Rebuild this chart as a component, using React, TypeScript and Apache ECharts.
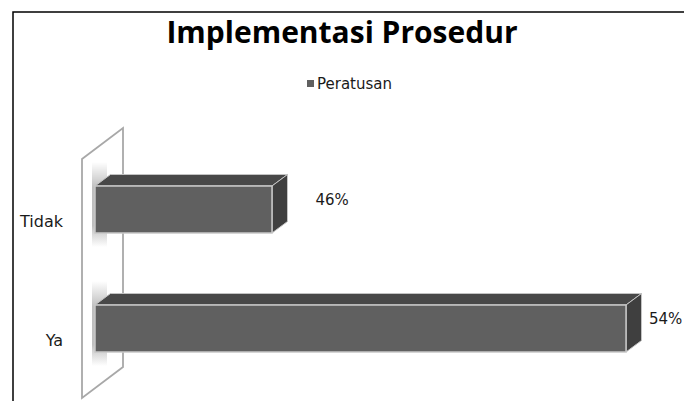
import React, { useEffect, useRef } from 'react';
import * as echarts from 'echarts';

const categories = ['Ya', 'Tidak'];
const values = [54, 46];
const seriesName = 'Peratusan';
const titleText = 'Implementasi Prosedur';
const axisMin = 42;
const axisMax = 55.31;

export default function App() {
  const ref = useRef<HTMLDivElement>(null);
  useEffect(() => {
    document.body.style.margin = '0';
    const chart = echarts.init(ref.current!, null, { renderer: 'svg' });
    const DX = 15.5;
    const DY = -11.5;
    chart.setOption({
      animation: false,
      backgroundColor: '#ffffff',
      title: {
        text: titleText,
        left: 'center',
        top: 11,
        textStyle: { fontFamily: 'Open Sans', fontWeight: 'bold', fontSize: 30, color: '#000000' },
      },
      legend: {
        data: [seriesName],
        left: 302,
        top: 71,
        icon: 'rect',
        itemWidth: 7,
        itemHeight: 7,
        textStyle: { fontFamily: 'DejaVu Sans', fontSize: 15, color: '#1a1a1a', padding: [0, 0, 0, -2] },
      },
      grid: { left: 95, right: 0, top: 150, bottom: 13, containLabel: false },
      xAxis: { type: 'value', min: axisMin, max: axisMax, show: false },
      yAxis: {
        type: 'category',
        data: categories,
        axisLine: { show: false },
        axisTick: { show: false },
        splitLine: { show: false },
        axisLabel: {
          margin: 32,
          fontFamily: 'DejaVu Sans',
          fontSize: 16,
          lineHeight: 23,
          color: '#1a1a1a',
          formatter: (v: string) => '\n' + v,
        },
      },
      graphic: [
        {
          type: 'rect',
          z: 0,
          shape: { x: 13, y: 12, width: 720, height: 430 },
          style: { fill: 'transparent', stroke: '#000000', lineWidth: 1.5 },
        },
        {
          type: 'polygon',
          z: 0,
          shape: { points: [[82, 159], [123, 128], [123, 367], [82, 398]] },
          style: { fill: '#ffffff', stroke: '#a8a8a8', lineWidth: 1.8 },
        },
      ],
      series: [
        {
          type: 'custom',
          name: seriesName,
          itemStyle: { color: '#606060' },
          data: values.map((v, i) => [v, i]),
          encode: { x: 0, y: 1 },
          clip: false,
          renderItem: (params: any, api: any) => {
            const v = api.value(0);
            const c = api.value(1);
            const start = api.coord([axisMin, c]);
            const end = api.coord([v, c]);
            const band = api.size([0, 1])[1];
            const h = band * 0.395;
            const x0 = start[0];
            const x1 = end[0];
            const yc = end[1];
            const yt = yc - h / 2;
            const yb = yc + h / 2;
            const labelX = Math.min(x1 + DX + 28, api.getWidth() - 35);
            return {
              type: 'group',
              children: [
                {
                  type: 'rect',
                  shape: { x: x0 - 3, y: yt - 24, width: 15, height: h + 38 },
                  style: {
                    fill: new echarts.graphic.LinearGradient(0, 0, 0, 1, [
                      { offset: 0, color: 'rgba(0,0,0,0)' },
                      { offset: 0.3, color: 'rgba(0,0,0,0.25)' },
                      { offset: 0.75, color: 'rgba(0,0,0,0.25)' },
                      { offset: 1, color: 'rgba(0,0,0,0)' },
                    ]),
                  },
                },
                {
                  type: 'polygon',
                  shape: { points: [[x0, yt], [x0 + DX, yt + DY], [x1 + DX, yt + DY], [x1, yt]] },
                  style: { fill: '#484848', stroke: '#c4c4c4', lineWidth: 1 },
                },
                {
                  type: 'polygon',
                  shape: { points: [[x1, yt], [x1 + DX, yt + DY], [x1 + DX, yb + DY], [x1, yb]] },
                  style: { fill: '#3f3f3f', stroke: '#c4c4c4', lineWidth: 1 },
                },
                {
                  type: 'rect',
                  shape: { x: x0, y: yt, width: x1 - x0, height: h },
                  style: { fill: '#606060', stroke: '#c8c8c8', lineWidth: 1.5 },
                },
                {
                  type: 'text',
                  style: {
                    text: v + '%',
                    x: labelX,
                    y: yc + DY + 2,
                    fill: '#1a1a1a',
                    fontFamily: 'DejaVu Sans',
                    fontSize: 15,
                    align: 'left',
                    verticalAlign: 'middle',
                  },
                },
              ],
            };
          },
        },
      ],
    });
    return () => chart.dispose();
  }, []);
  return <div ref={ref} style={{ width: 684, height: 401 }} />;
}
